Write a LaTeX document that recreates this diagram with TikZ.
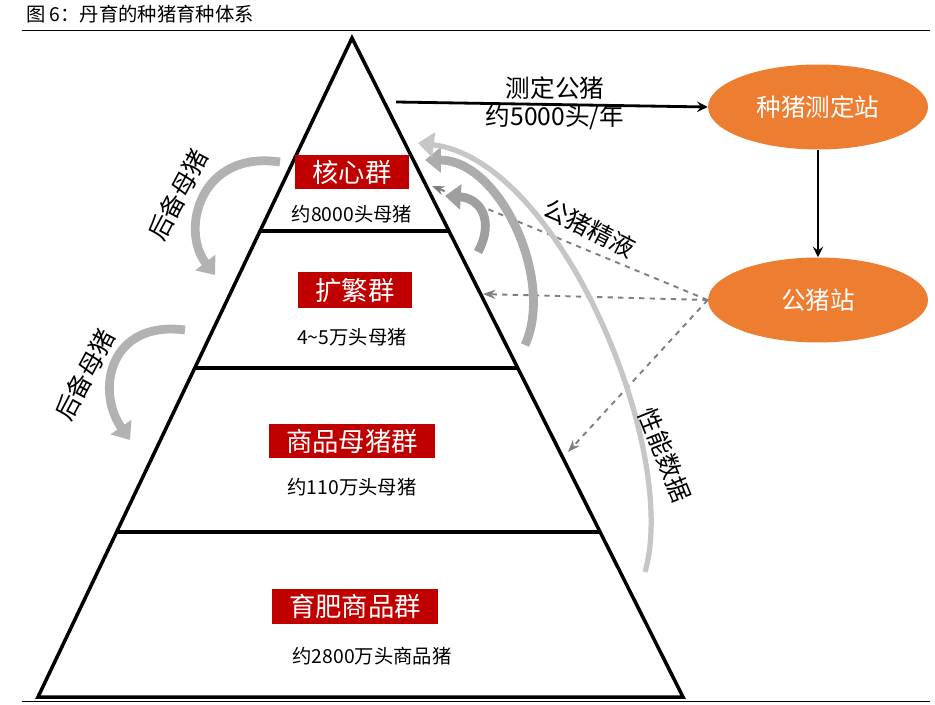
\documentclass[tikz,border=0pt]{standalone}
\usepackage{fontspec}
\setmainfont{Noto Sans CJK SC}
\usetikzlibrary{shapes.geometric, arrows, arrows.meta}
\definecolor{tagred}{HTML}{C00000}
\definecolor{pigorange}{HTML}{ED7D31}
\tikzstyle{tag} = [rectangle, fill=tagred, text=white, font=\fontsize{15}{17}\selectfont, inner xsep=10pt, inner ysep=3pt]
\tikzstyle{count} = [font=\fontsize{11}{13}\selectfont]
\tikzstyle{station} = [ellipse, fill=pigorange, text=white, minimum width=4.4cm, minimum height=1.7cm, font=\fontsize{14}{16}\selectfont]
\tikzstyle{arrow} = [line width=1.6pt,->,>=stealth]
\tikzstyle{semen} = [line width=1.1pt, dashed, gray, -{Stealth[length=7pt]}]
\tikzstyle{curvearrow} = [line width=5pt, gray!60, -{Triangle[length=9pt,width=14pt]}]

\begin{document}
\begin{tikzpicture}[x=0.02cm, y=-0.02cm]
\useasboundingbox (0,0) rectangle (935,705);

\node (title) [anchor=west, font=\fontsize{11}{13}\selectfont] at (20,14) {图 6：丹育的种猪育种体系};
\draw (22,30) -- (930,30);
\draw (22,701) -- (930,701);

% pyramid
\draw [line width=2pt] (352,38) -- (38,697) -- (683,697) -- cycle;
\draw [line width=2pt] (260,231) -- (449,231);
\draw [line width=2pt] (195,368) -- (518,368);
\draw [line width=2pt] (117,532) -- (600,532);

\node (core) [tag] at (352,172) {核心群};
\node (coreN) [count] at (352,214) {约8000头母猪};
\node (multi) [tag] at (355,290) {扩繁群};
\node (multiN) [count] at (352,337) {4\textasciitilde5万头母猪};
\node (sow) [tag] at (352,441) {商品母猪群};
\node (sowN) [count] at (352,487) {约110万头母猪};
\node (fat) [tag] at (355,606) {育肥商品群};
\node (fatN) [count] at (372,656) {约2800万头商品猪};

\node (test) [station] at (818,107) {种猪测定站};
\node (boar) [station] at (818,300) {公猪站};

\coordinate (apexR) at (396,102);
\node (testL) [font=\fontsize{14}{16}\selectfont, align=center] at (555,103) {测定公猪\\约5000头/年};
\draw [arrow] (apexR) -- (test.west);
\draw [arrow] (test) -- (boar);

% semen
\coordinate (s1) at (432,186);
\coordinate (s2) at (483,294);
\coordinate (s3) at (568,452);
\draw [semen] (boar.west) -- (s1);
\draw [semen] (boar.west) -- (s2);
\draw [semen] (boar.west) -- (s3);
\node (semenL) [font=\fontsize{14}{16}\selectfont, rotate=-27] at (590,228) {公猪精液};

% performance data
\coordinate (d1) at (478,252);
\coordinate (d2) at (525,345);
\coordinate (d3) at (645,572);
\draw [curvearrow, gray!75] (d1) .. controls (495,220) and (480,198) .. (445,196);
\draw [curvearrow, gray!65] (d2) .. controls (555,280) and (500,160) .. (425,160);
\draw [curvearrow, line width=3pt, gray!45] (d3) .. controls (680,450) and (560,160) .. (418,143);
\node (dataL) [font=\fontsize{14}{16}\selectfont, rotate=-68] at (665,455) {性能数据};

% gilts
\coordinate (g1) at (280,162);
\coordinate (g2) at (185,330);
\draw [curvearrow] (g1) .. controls (200,150) and (180,230) .. (215,275);
\draw [curvearrow] (g2) .. controls (110,320) and (95,390) .. (130,440);
\node (gilt1) [font=\fontsize{14}{16}\selectfont, rotate=62] at (178,195) {后备母猪};
\node (gilt2) [font=\fontsize{14}{16}\selectfont, rotate=62] at (85,375) {后备母猪};

\end{tikzpicture}
\end{document}
